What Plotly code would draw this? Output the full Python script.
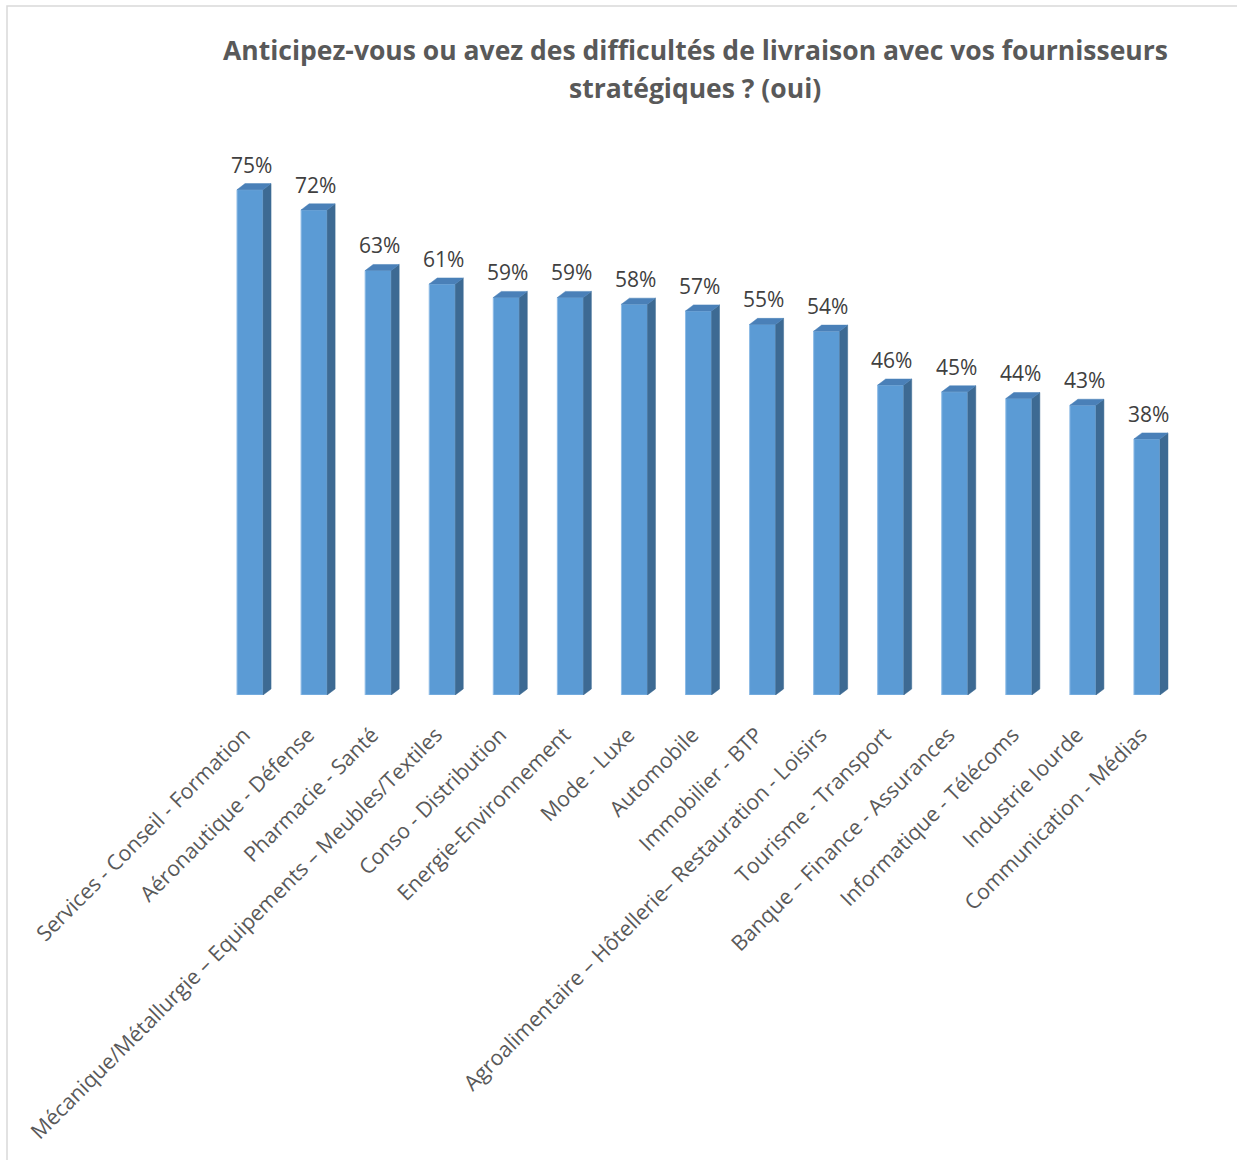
import plotly.graph_objects as go

# Secteurs et part de répondants "oui"
categories = [
    "Services - Conseil - Formation",
    "Aéronautique - Défense",
    "Pharmacie - Santé",
    "Mécanique/Métallurgie – Equipements – Meubles/Textiles",
    "Conso - Distribution",
    "Energie-Environnement",
    "Mode - Luxe",
    "Automobile",
    "Immobilier - BTP",
    "Agroalimentaire – Hôtellerie– Restauration - Loisirs",
    "Tourisme - Transport",
    "Banque – Finance - Assurances",
    "Informatique - Télécoms",
    "Industrie lourde",
    "Communication - Médias",
]
values = [75, 72, 63, 61, 59, 59, 58, 57, 55, 54, 46, 45, 44, 43, 38]
labels = [f"{v}%" for v in values]
title_lines = [
    "Anticipez-vous ou avez des difficultés de livraison avec vos fournisseurs",
    "stratégiques ? (oui)",
]

FRONT = "#5b9bd5"
SIDE = "#3d6a93"
TOP = "#4a80b8"
EDGE = "#8dbbe6"

BAR_W = 0.406   # front face width (category units)
DX = 0.125      # depth offset to the right (category units)
DY = 0.9        # depth offset upwards (value units)

# plot-area geometry in pixels
W, H = 1237, 1160
L, R, T, B = 218, 58, 156, 465
PW, PH = W - L - R, H - T - B

xs = list(range(len(categories)))

fig = go.Figure()

# front faces
fig.add_trace(go.Bar(
    x=xs, y=values, width=BAR_W,
    marker=dict(color=FRONT, line=dict(color=EDGE, width=1)),
    hoverinfo="skip", showlegend=False,
))

# side faces (parallelograms to the right of each bar)
sx, sy = [], []
for i, v in zip(xs, values):
    r = i + BAR_W / 2
    sx += [r, r + DX, r + DX, r, r, None]
    sy += [0, DY, v + DY, v, 0, None]
fig.add_trace(go.Scatter(
    x=sx, y=sy, mode="lines", fill="toself", fillcolor=SIDE,
    line=dict(color=SIDE, width=0.5), hoverinfo="skip", showlegend=False,
))

# top faces
tx, ty = [], []
for i, v in zip(xs, values):
    l, r = i - BAR_W / 2, i + BAR_W / 2
    tx += [l, l + DX, r + DX, r, l, None]
    ty += [v, v + DY, v + DY, v, v, None]
fig.add_trace(go.Scatter(
    x=tx, y=ty, mode="lines", fill="toself", fillcolor=TOP,
    line=dict(color=TOP, width=0.5), hoverinfo="skip", showlegend=False,
))

annotations = []
# value labels
for i, v, t in zip(xs, values, labels):
    annotations.append(dict(
        x=i + 0.02, y=v + DY, xref="x", yref="y", text=t, showarrow=False,
        xanchor="center", yanchor="bottom", yshift=3,
        font=dict(family="Open Sans", size=21, color="#404040"),
    ))
# two-line title
for line, ypx in zip(title_lines, [50, 88]):
    annotations.append(dict(
        x=(695 - L) / PW, y=(H - B - ypx) / PH, xref="paper", yref="paper",
        text=f"<b>{line}</b>", showarrow=False,
        xanchor="center", yanchor="middle",
        font=dict(family="Open Sans", size=26.5, color="#595959"),
    ))

fig.update_layout(
    width=W, height=H,
    margin=dict(l=L, r=R, t=T, b=B),
    paper_bgcolor="white", plot_bgcolor="white",
    annotations=annotations,
    xaxis=dict(
        range=[-0.5, 14.5], tickmode="array", tickvals=xs, ticktext=categories,
        tickangle=-45, showgrid=False, zeroline=False, showline=False,
        ticks="outside", ticklen=18, tickcolor="rgba(0,0,0,0)",
        ticklabelshift=-6,
        tickfont=dict(family="Open Sans", size=21.3, color="#595959"),
        fixedrange=True,
    ),
    yaxis=dict(
        range=[0, 80], showgrid=False, zeroline=False, showline=False,
        showticklabels=False, fixedrange=True,
    ),
    shapes=[dict(
        type="rect", xref="paper", yref="paper",
        x0=(7 - L) / PW, x1=(W + 13 - L) / PW,
        y0=(H - B - (H + 15)) / PH, y1=(H - B - 6) / PH,
        line=dict(color="#d9d9d9", width=1.5), fillcolor="rgba(0,0,0,0)",
        layer="below",
    )],
)

fig.write_html("out.html")
